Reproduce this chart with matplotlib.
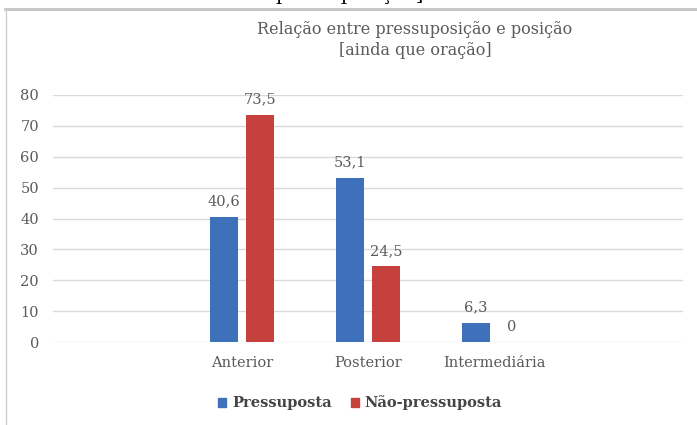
import matplotlib.pyplot as plt
from matplotlib.lines import Line2D
from matplotlib.patches import Patch

categorias = ['Anterior', 'Posterior', 'Intermediária']
pressuposta = [40.6, 53.1, 6.3]
nao_pressuposta = [73.5, 24.5, 0]
series = ['Pressuposta', 'Não-pressuposta']
yticks = [0, 10, 20, 30, 40, 50, 60, 70, 80]

azul = '#3F70BA'
vermelho = '#C6403E'
cinza = '#5A5A5A'
fonte = 'DejaVu Serif'

fig = plt.figure(figsize=(6.97, 4.25), dpi=100)
ax = fig.add_axes([53 / 697, 83 / 425, 630 / 697, 247 / 425])

larg = 0.218
desl = 0.144
pos = [1, 2, 3]
b1 = ax.bar([p - desl for p in pos], pressuposta, larg, color=azul, zorder=3)
b2 = ax.bar([p + desl for p in pos], nao_pressuposta, larg, color=vermelho, zorder=3)

for barras, valores in [(b1, pressuposta), (b2, nao_pressuposta)]:
    for b, v in zip(barras, valores):
        txt = ('%g' % v).replace('.', ',')
        ax.annotate(txt, (b.get_x() + b.get_width() / 2, v), xytext=(0, 6),
                    textcoords='offset points', ha='center', va='bottom',
                    fontsize=10.5, color=cinza, family=fonte)

ax.set_xlim(-0.5, 4.5)
ax.set_ylim(0, 80)
ax.set_yticks(yticks)
ax.set_xticks(pos)
ax.set_xticklabels(categorias)
ax.tick_params(axis='both', length=0, labelsize=10.5, labelcolor=cinza)
ax.tick_params(axis='y', pad=10)
ax.tick_params(axis='x', pad=10)
for lab in ax.get_xticklabels() + ax.get_yticklabels():
    lab.set_family(fonte)
ax.grid(axis='y', color='#DADADA', linewidth=1, zorder=0)
for s in ax.spines.values():
    s.set_visible(False)

fig.text(415 / 697, 1 - 40 / 425, 'Relação entre pressuposição e posição\n[ainda que oração]',
         ha='center', va='center', fontsize=11.5, color=cinza, family=fonte, linespacing=1.25)

# texto cortado do documento acima do grafico
fig.text(350 / 697, 1 - 0.5 / 425, 'pressuposição]', ha='center', va='baseline',
         fontsize=14, color='black', family=fonte)

# moldura do grafico
fig.add_artist(Line2D([5 / 697, 1], [1 - 9 / 425, 1 - 9 / 425], color='#C4C4C4', linewidth=2))
fig.add_artist(Line2D([6 / 697, 6 / 697], [0, 1 - 9 / 425], color='#D0D0D0', linewidth=1))

handles = [Patch(color=azul), Patch(color=vermelho)]
leg = fig.legend(handles, series, loc='center', bbox_to_anchor=(360 / 697, 1 - 403 / 425),
                 ncol=2, frameon=False, handlelength=0.55, handleheight=0.55,
                 handletextpad=0.4, columnspacing=1.3,
                 prop={'family': fonte, 'weight': 'bold', 'size': 10.5})
for t in leg.get_texts():
    t.set_color('#444444')

fig.savefig('out.png', dpi=100)
